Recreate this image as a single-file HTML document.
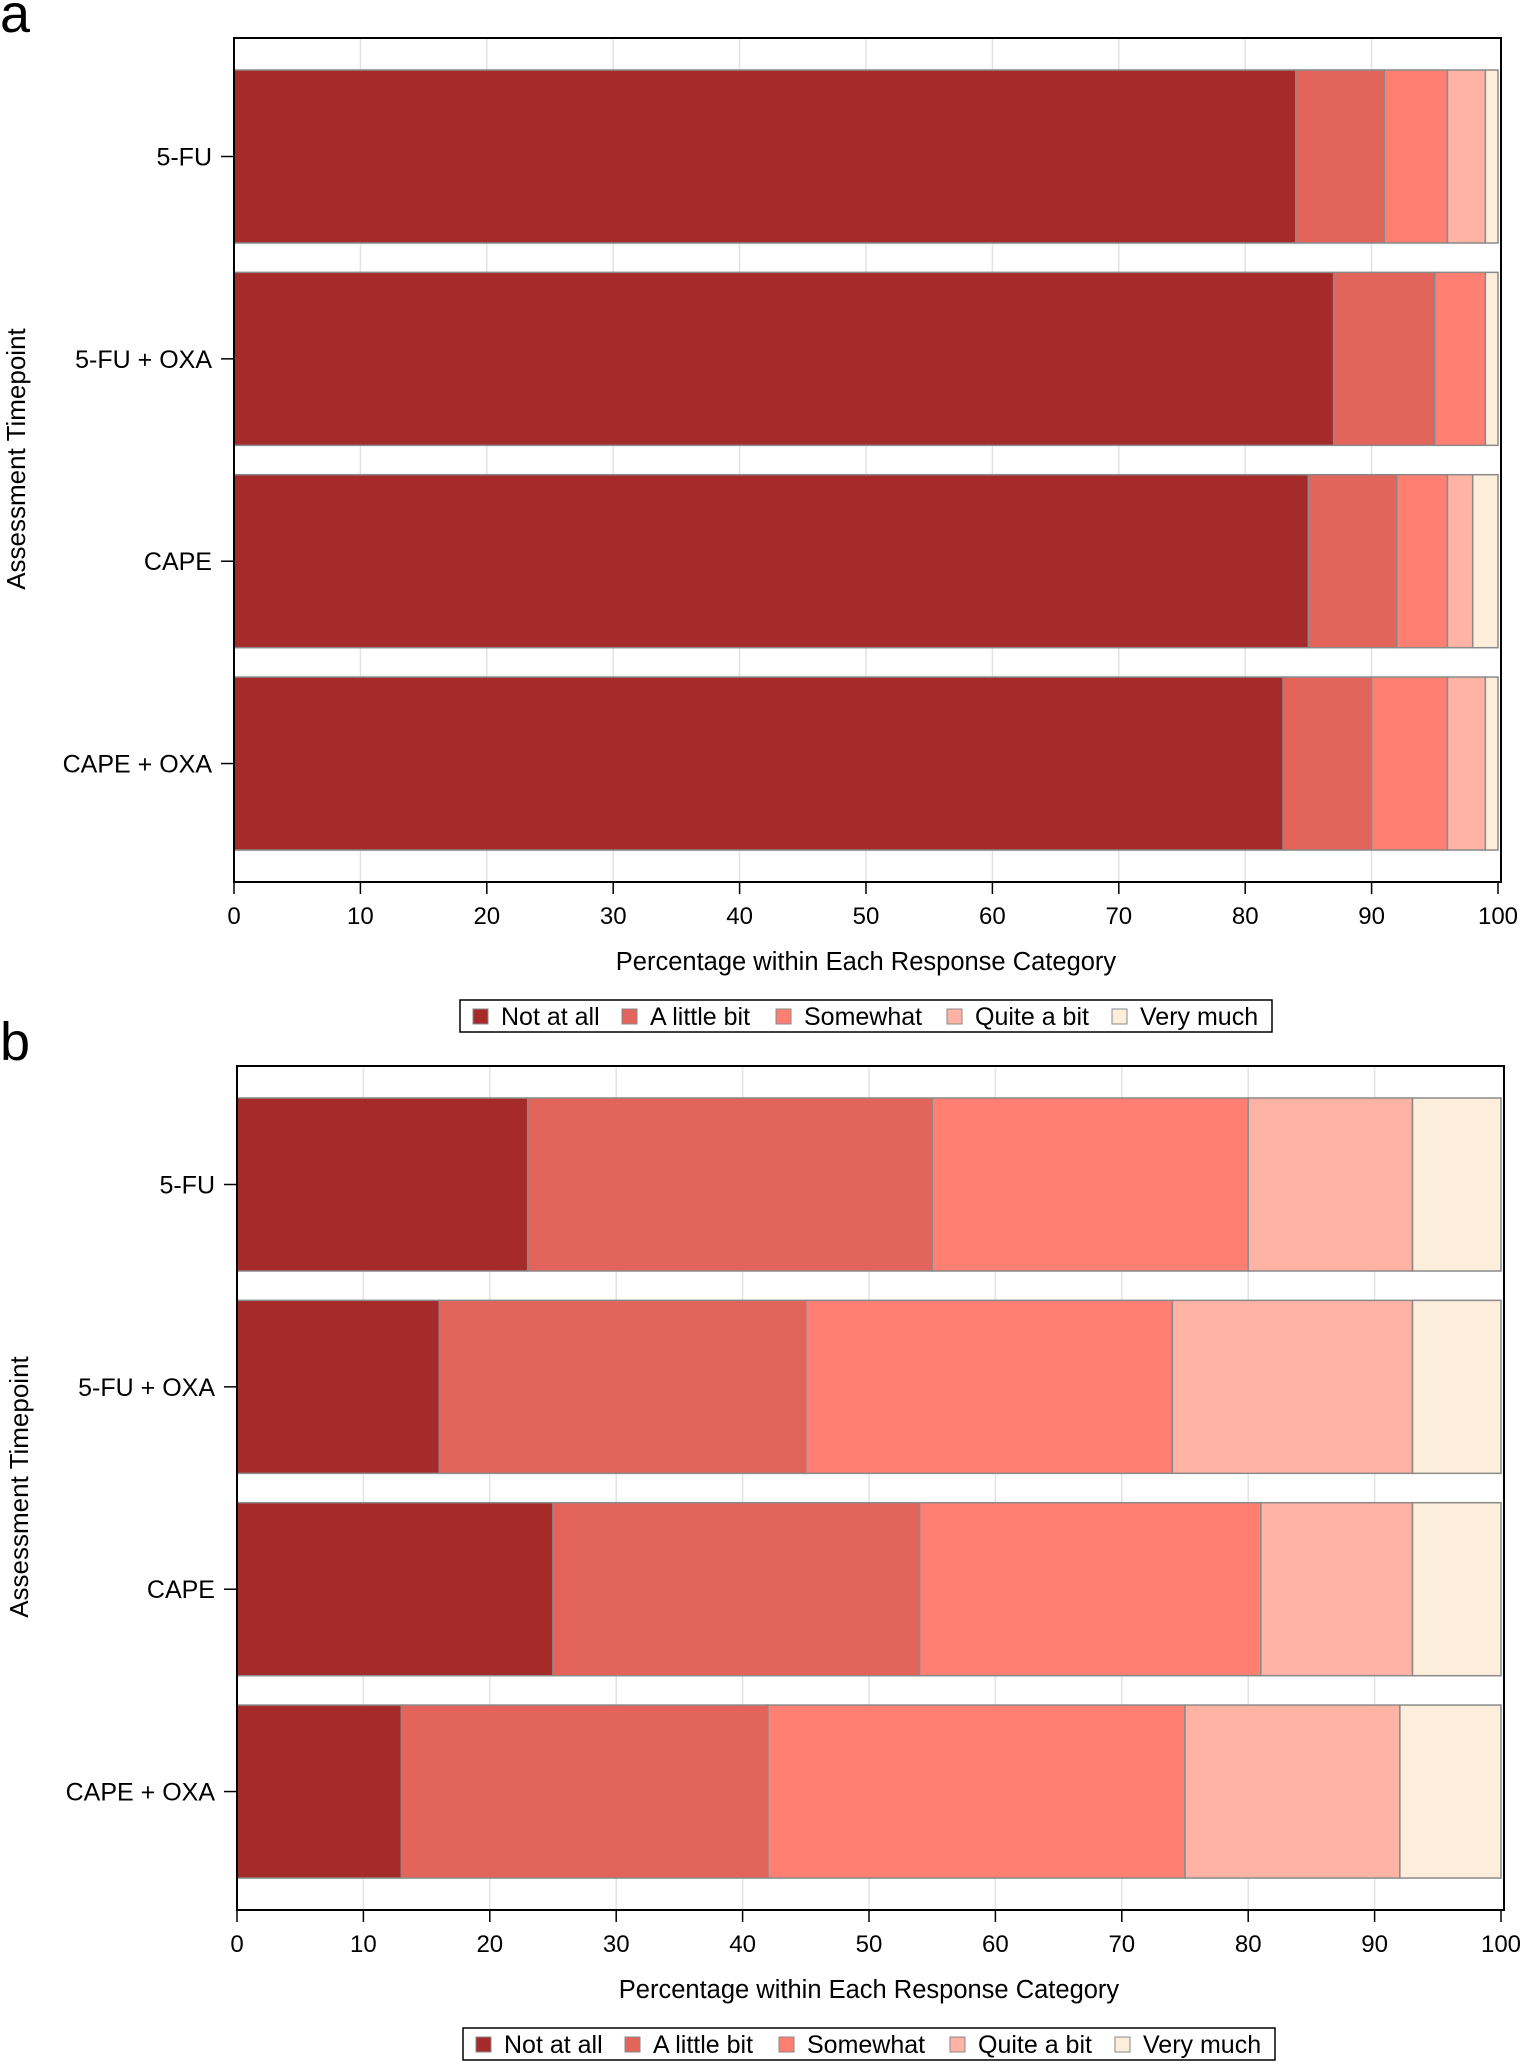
<!DOCTYPE html>
<html><head><meta charset="utf-8"><style>
body{margin:0;background:#fff;}
svg{display:block;font-family:"Liberation Sans",Arial,sans-serif;}
</style></head><body>
<svg id="chart" width="1525" height="2065" viewBox="0 0 1525 2065"></svg>
<script>
const categories = ["5-FU","5-FU + OXA","CAPE","CAPE + OXA"];
const seriesNames = ["Not at all","A little bit","Somewhat","Quite a bit","Very much"];
const colors = ["#a52a2a","#e2645a","#ff7f72","#feb3a5","#fdeedc"];
const panelA_notAtAll = [84,87,85,83];
const panelA_aLittleBit = [7,8,7,7];
const panelA_somewhat = [5,4,4,6];
const panelA_quiteABit = [3,0,2,3];
const panelA_veryMuch = [1,1,2,1];
const panelB_notAtAll = [23,16,25,13];
const panelB_aLittleBit = [32,29,29,29];
const panelB_somewhat = [25,29,27,33];
const panelB_quiteABit = [13,19,12,17];
const panelB_veryMuch = [7,7,7,8];
const xTicks = [0,10,20,30,40,50,60,70,80,90,100];

const NS="http://www.w3.org/2000/svg";
const svg=document.getElementById('chart');
function mk(tag,attrs,parent,text){const e=document.createElementNS(NS,tag);for(const k in attrs)e.setAttribute(k,attrs[k]);if(text!==undefined)e.textContent=text;(parent||svg).appendChild(e);return e;}

function panel(letter,off,series,x0){
  const g=mk('g',{});
  
  
  const left=x0, right=x0+1264, top=38+off, bottom=882+off;
  const xs=v=>left+v*12.64;
  const yc=i=>156.5+off+i*202.35;
  const bh=173;
  const lbl=mk('text',{x:0,y:32+off,'font-size':54},g,letter);
  
  
  xTicks.forEach(t=>{if(t>0&&t<100){const l=mk('line',{x1:xs(t),x2:xs(t),y1:top,y2:bottom,stroke:'#e3e3e3','stroke-width':1.5},g);
    
    }});
  categories.forEach((c,i)=>{
    let acc=0;
    series.forEach((s,j)=>{
      const v=s[i];
      if(v>0){const r=mk('rect',{x:xs(acc),y:yc(i)-bh/2,width:xs(acc+v)-xs(acc),height:bh,fill:colors[j],stroke:'#8a8a8a','stroke-width':1.5},g);
        
        }
      acc+=v;
    });
    const tk=mk('line',{x1:left-13,x2:left,y1:yc(i),y2:yc(i),stroke:'#000','stroke-width':1.5},g);
    
    
    const tl=mk('text',{x:left-22,y:yc(i)+9,'font-size':25,'text-anchor':'end'},g,c);
    
    
  });
  const fr=mk('rect',{x:left,y:top,width:right-left+3,height:bottom-top,fill:'none',stroke:'#000','stroke-width':2},g);
  
  
  xTicks.forEach(t=>{
    const l=mk('line',{x1:xs(t),x2:xs(t),y1:bottom,y2:bottom+12,stroke:'#000','stroke-width':1.5},g);
    
    
    const tx=mk('text',{x:xs(t),y:bottom+42,'font-size':24,'text-anchor':'middle'},g,String(t));
    
    
  });
  const xt=mk('text',{x:866+(x0-234),y:970+off,'font-size':25.5,'text-anchor':'middle'},g,'Percentage within Each Response Category');
  
  
  const yt=mk('text',{x:0,y:0,'font-size':26,'text-anchor':'middle',transform:'translate('+(25+(x0-234))+','+(459+off)+') rotate(-90)'},g,'Assessment Timepoint');
  
  
  const lg=mk('g',{},g);
  
  
  const lx=x0-234;
  mk('rect',{x:460+lx,y:1000+off,width:812,height:32,fill:'#fff',stroke:'#000','stroke-width':1.5},lg);
  const sq=[473,622,776,947,1112];
  seriesNames.forEach((n,j)=>{
    const s=mk('rect',{x:sq[j]+lx,y:1009+off,width:15,height:15,fill:colors[j],stroke:'#888','stroke-width':1},lg);
    
    
    const t=mk('text',{x:sq[j]+28+lx,y:1025+off,'font-size':25},lg,n);
    
    
  });
}
panel('a',0,[panelA_notAtAll,panelA_aLittleBit,panelA_somewhat,panelA_quiteABit,panelA_veryMuch],234);
panel('b',1028,[panelB_notAtAll,panelB_aLittleBit,panelB_somewhat,panelB_quiteABit,panelB_veryMuch],237);
</script>
</body></html>
